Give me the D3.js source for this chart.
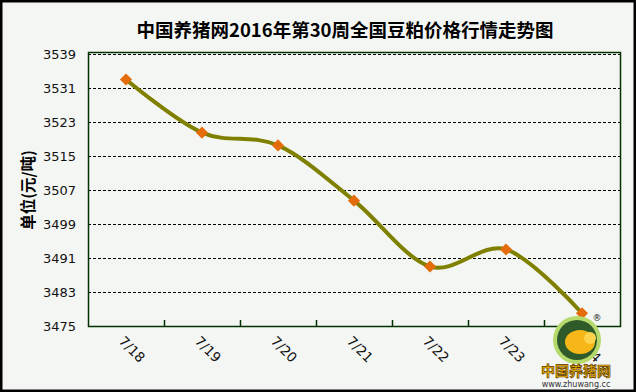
<!DOCTYPE html>
<html>
<head>
<meta charset="utf-8">
<script src="https://cdn.jsdelivr.net/npm/d3@7"></script>
<style>
  body { margin: 0; background: #fff; }
  svg { display: block; }
  text { font-family: "DejaVu Sans", "Noto Sans CJK SC", sans-serif; }
</style>
</head>
<body>
<div id="chart"></div>
<script>
// data
var days = ["7/18", "7/19", "7/20", "7/21", "7/22", "7/23", "7/24"];
var prices = [3533, 3520.5, 3517.5, 3504.5, 3489, 3493, 3478];
var yTicks = [3475, 3483, 3491, 3499, 3507, 3515, 3523, 3531, 3539];
var title = "中国养猪网2016年第30周全国豆粕价格行情走势图";
var yLabel = "单位(元/吨)";

var width = 636,
    height = 392;

var plot = { left: 88, right: 620, top: 54, bottom: 326 };

var svg = d3.select("#chart")
    .append("svg")
    .attr("width", width)
    .attr("height", height);

// background + outer frame
svg.append("rect")
    .attr("x", 1).attr("y", 1)
    .attr("width", width - 2).attr("height", height - 2)
    .attr("fill", "#f4f6f3")
    .attr("stroke", "#000")
    .attr("stroke-width", 3);

svg.append("text")
    .attr("x", 345)
    .attr("y", 37)
    .attr("text-anchor", "middle")
    .style("font-family", "'Noto Sans CJK SC', sans-serif")
    .style("font-size", "18.5px")
    .style("font-weight", "bold")
    .attr("fill", "#000")
    .text(title);

var x = d3.scaleBand()
    .domain(days)
    .range([plot.left, plot.right]);

var y = d3.scaleLinear()
    .domain([3475, 3539])
    .range([plot.bottom, plot.top]);

// dashed gridlines
svg.append("g")
    .selectAll("line")
    .data(yTicks.slice(1))
    .enter().append("line")
    .attr("x1", plot.left)
    .attr("x2", plot.right)
    .attr("y1", function(d) { return Math.round(y(d)) + 0.5; })
    .attr("y2", function(d) { return Math.round(y(d)) + 0.5; })
    .attr("stroke", "#000")
    .attr("stroke-dasharray", "3,2")
    .attr("stroke-width", 1);

// plot frame
svg.append("rect")
    .attr("x", plot.left + 0.5)
    .attr("y", plot.top - 1.5)
    .attr("width", plot.right - plot.left)
    .attr("height", plot.bottom - plot.top + 2)
    .attr("fill", "none")
    .attr("stroke", "#003300")
    .attr("stroke-width", 1.5);

// y tick labels
svg.append("g")
    .selectAll("text")
    .data(yTicks)
    .enter().append("text")
    .attr("x", 76)
    .attr("y", function(d) { return y(d) + 5; })
    .attr("text-anchor", "end")
    .style("font-size", "13px")
    .attr("fill", "#111")
    .text(function(d) { return d; });

// x axis ticks (inward, at band boundaries)
var bounds = days.slice(1).map(function(d) { return x(d); });
svg.append("g")
    .selectAll("line")
    .data(bounds)
    .enter().append("line")
    .attr("x1", function(d) { return Math.round(d) + 0.5; })
    .attr("x2", function(d) { return Math.round(d) + 0.5; })
    .attr("y1", plot.bottom)
    .attr("y2", plot.bottom - 6)
    .attr("stroke", "#003300")
    .attr("stroke-width", 1.5);

// rotated x labels
svg.append("g")
    .selectAll("text")
    .data(days)
    .enter().append("text")
    .attr("transform", function(d) {
        return "translate(" + (x(d) + x.bandwidth() / 2 - 8) + ",342) rotate(45)";
    })
    .style("font-size", "13.5px")
    .attr("fill", "#111")
    .text(function(d) { return d; });

// y axis title
svg.append("text")
    .attr("transform", "translate(34,190) rotate(-90)")
    .attr("text-anchor", "middle")
    .style("font-family", "'Noto Sans CJK SC', sans-serif")
    .style("font-size", "15.5px")
    .style("font-weight", "bold")
    .attr("fill", "#000")
    .text(yLabel);

// smoothed line
var pts = days.map(function(d, i) { return { day: d, v: prices[i] }; });

var line = d3.line()
    .x(function(d) { return x(d.day) + x.bandwidth() / 2; })
    .y(function(d) { return y(d.v); })
    .curve(d3.curveCardinal.tension(0));

svg.append("path")
    .datum(pts)
    .attr("d", line)
    .attr("fill", "none")
    .attr("stroke", "#808000")
    .attr("stroke-width", 4);

// diamond markers
svg.append("g")
    .selectAll("path")
    .data(pts)
    .enter().append("path")
    .attr("d", d3.symbol().type(d3.symbolDiamond2).size(95))
    .attr("transform", function(d) {
        return "translate(" + (x(d.day) + x.bandwidth() / 2) + "," + y(d.v) + ")";
    })
    .attr("fill", "#e46c0a");

// watermark logo (rough)
var logo = svg.append("g").attr("transform", "translate(577,340)");
logo.append("circle").attr("r", 24).attr("fill", "#b5d96a");
logo.append("circle").attr("r", 20).attr("fill", "#2f5a2a");
logo.append("ellipse").attr("cx", 3).attr("cy", 2).attr("rx", 15).attr("ry", 12).attr("fill", "#f7b718");
logo.append("circle").attr("cx", 13).attr("cy", -2).attr("r", 6).attr("fill", "#fcd34a");

svg.append("text")
    .attr("x", 597).attr("y", 321)
    .attr("text-anchor", "middle")
    .style("font-size", "9px")
    .attr("fill", "#222")
    .text("®");

svg.append("text")
    .attr("x", 576).attr("y", 376)
    .attr("text-anchor", "middle")
    .style("font-family", "'Noto Sans CJK SC', sans-serif")
    .style("font-size", "14px")
    .style("font-weight", "bold")
    .attr("fill", "#f5b400")
    .attr("stroke", "#5a3a00")
    .attr("stroke-width", 0.7)
    .text("中国养猪网");

svg.append("text")
    .attr("x", 576).attr("y", 387)
    .attr("text-anchor", "middle")
    .style("font-size", "8px")
    .attr("fill", "#333")
    .text("www.zhuwang.cc");
</script>
</body>
</html>
